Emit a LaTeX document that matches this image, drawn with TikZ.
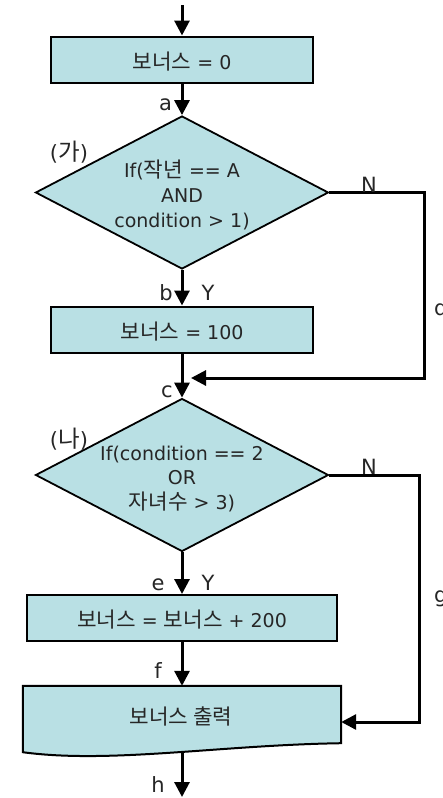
\documentclass[tikz,border=0pt]{standalone}
\usepackage{fontspec}
\setmainfont{DejaVu Sans}
\newfontfamily\krfont[Scale=1.12]{Noto Sans CJK KR}
\usetikzlibrary{arrows.meta,shapes.geometric}

\definecolor{boxfill}{HTML}{B9E0E4}
\definecolor{ink}{HTML}{262626}

\begin{document}
\begin{tikzpicture}[x=1pt,y=-1pt,
  every node/.style={text=ink, font=\fontsize{19}{25}\selectfont, inner sep=0pt},
  procbox/.style={draw=black, line width=2pt, fill=boxfill, rectangle,
    minimum width=#1, minimum height=46pt, text height=19pt, text depth=0pt},
  decision/.style={draw=black, line width=1.8pt, fill=boxfill, diamond,
    minimum width=293pt, minimum height=153pt},
  txt/.style={anchor=base},
  lbl/.style={anchor=base, font=\fontsize{21}{25}\selectfont},
  flow/.style={line width=3pt, -{Triangle[length=15pt,width=15pt]}}
]
\useasboundingbox (0,0) rectangle (442,798);

% process boxes and decisions
\node[procbox=262pt] (init) at (182,59.5) {{\krfont 보너스} = 0};

\node[decision] (q1) at (182,192.5) {};
\node[txt] (q1a) at (182,177) {If({\krfont 작년} == A};
\node[txt] (q1b) at (182,202) {AND};
\node[txt] (q1c) at (182,227) {condition > 1)};

\node[procbox=262pt] (bonus100) at (182,329.5) {{\krfont 보너스} = 100};

\node[decision] (q2) at (182,475) {};
\node[txt] (q2a) at (182,460) {If(condition == 2};
\node[txt] (q2b) at (182,484.5) {OR};
\node[txt] (q2c) at (182,509) {{\krfont 자녀수} > 3)};

\node[procbox=310pt] (bonus200) at (182,618) {{\krfont 보너스} = {\krfont 보너스} + 200};

% output (document shape)
\node[minimum width=318pt, minimum height=66pt] (print) at (182,719) {};
\draw[line width=2pt, fill=boxfill] (print.north west) -- (print.north east)
  -- ([yshift=9pt]print.south east) .. controls (220,745) and (110,764) .. (print.south west) -- cycle;
\node[txt] (printT) at (181,724) {\krfont 보너스 출력};

% connectors
\coordinate (entry) at (182,5);
\coordinate (exit) at (182,797);
\coordinate (ret1) at (424,378);
\coordinate (merge1) at (191,378);
\coordinate (ret2) at (419,722);

\draw[flow] (entry) -- (init.north);
\draw[flow] (init.south) -- (q1.north);
\draw[flow] (q1.south) -- (bonus100.north);
\draw[flow] (bonus100.south) -- (q2.north);
\draw[flow] (q1.east) -| (ret1) -- (merge1);
\draw[flow] (q2.south) -- (bonus200.north);
\draw[flow] (bonus200.south) -- (print.north);
\draw[flow] (q2.east) -| (ret2) -- (print.east |- ret2);
\draw[flow] (print.south) -- (exit);

% labels
\node[lbl] (la) at (165.5,110) {a};
\node[lbl] (lb) at (166,300) {b};
\node[lbl] (ly1) at (208,300) {Y};
\node[lbl] (lc) at (167,397) {c};
\node[lbl] (ln1) at (369,192) {N};
\node[lbl] (ln2) at (369,474) {N};
\node[lbl] (le) at (158,590) {e};
\node[lbl] (ly2) at (208,590) {Y};
\node[lbl] (lf) at (158,678) {f};
\node[lbl] (lh) at (158,792) {h};
\node[lbl, anchor=base west] (ld) at (434,315) {d};
\node[lbl, anchor=base west] (lg) at (434,602) {g};
\node[lbl] (tagA) at (69,160) {({\krfont 가})};
\node[lbl] (tagB) at (69,447) {({\krfont 나})};
\end{tikzpicture}
\end{document}
